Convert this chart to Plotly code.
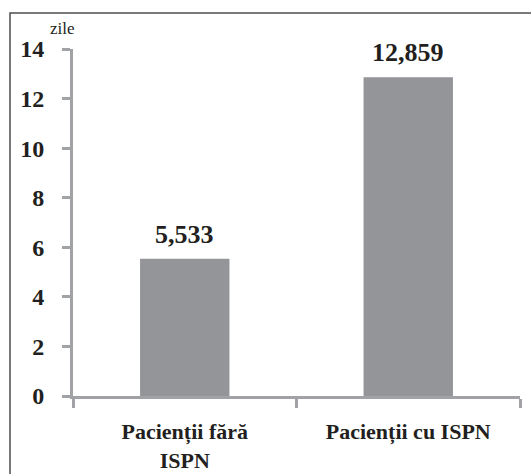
import plotly.graph_objects as go

categories = ["Pacienții fără<br>ISPN", "Pacienții cu ISPN"]
values = [5.533, 12.859]
y_ticks = [0, 2, 4, 6, 8, 10, 12, 14]

W, H = 531, 474
ML, MR, MT, MB = 73, 11, 49, 78
pw = W - ML - MR
ph = H - MT - MB

def px_x(x):
    return (x - ML) / pw

def px_y(y):
    return (H - MB - y) / ph

text_color = "#231f20"
axis_color = "#a0a2a5"
bar_color = "#939598"
font_family = "'Liberation Serif', 'Times New Roman', Times, serif"

fig = go.Figure(
    go.Bar(
        x=categories,
        y=values,
        width=0.4,
        marker=dict(color=bar_color, line=dict(width=0)),
        hoverinfo="x+y",
    )
)

# value labels above each bar, formatted with a decimal comma
value_labels = [
    dict(
        x=c,
        y=v,
        xref="x",
        yref="y",
        text=f"{v:.3f}".replace(".", ","),
        showarrow=False,
        xanchor="center",
        yanchor="bottom",
        yshift=8,
        font=dict(family=font_family, size=26, color=text_color, weight="bold"),
    )
    for c, v in zip(categories, values)
]

fig.update_layout(
    width=W,
    height=H,
    margin=dict(l=ML, r=MR, t=MT, b=MB, autoexpand=False),
    paper_bgcolor="white",
    plot_bgcolor="white",
    showlegend=False,
    font=dict(family=font_family, color=text_color),
    xaxis=dict(
        automargin=False,
        showline=True,
        linecolor=axis_color,
        linewidth=3,
        ticks="outside",
        tickson="boundaries",
        ticklen=9,
        tickwidth=3,
        tickcolor=axis_color,
        tickfont=dict(family=font_family, size=22, color=text_color, weight="bold"),
        ticklabelstandoff=14,
        showgrid=False,
    ),
    yaxis=dict(
        automargin=False,
        range=[0, 14],
        tickvals=y_ticks,
        showline=True,
        linecolor=axis_color,
        linewidth=3,
        ticks="outside",
        ticklen=8,
        tickwidth=3,
        tickcolor=axis_color,
        tickfont=dict(family=font_family, size=24, color=text_color, weight="bold"),
        ticklabelstandoff=13,
        showgrid=False,
        zeroline=False,
    ),
    annotations=value_labels + [
        dict(
            text="zile",
            xref="paper",
            yref="paper",
            x=px_x(62),
            y=px_y(28),
            xanchor="center",
            yanchor="middle",
            showarrow=False,
            font=dict(family=font_family, size=17, color=text_color),
        )
    ],
    shapes=[
        dict(
            type="rect",
            xref="paper",
            yref="paper",
            x0=px_x(10),
            x1=px_x(560),
            y0=px_y(500),
            y1=px_y(13),
            line=dict(color="#4d4d4f", width=1.5),
            layer="below",
        )
    ],
)

fig.write_html("out.html")
